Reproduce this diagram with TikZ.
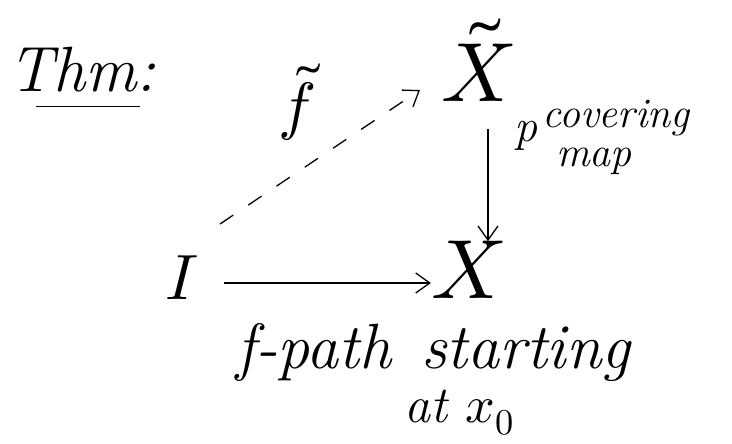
\documentclass[tikz,border=0pt]{standalone}
\usepackage{fontspec}
\usepackage{unicode-math}
\setmathfont{Latin Modern Math}
\usetikzlibrary{arrows.meta}
\tikzset{
  lbl/.style={inner sep=0pt, anchor=center},
  arr/.style={line width=1.3pt, -{Straight Barb[length=14pt,width=20pt,line width=1.3pt]}},
  hand/.style={line width=1.3pt}
}
\begin{document}
\begin{tikzpicture}[x=1pt,y=-1pt]
\useasboundingbox (0,0) rectangle (732,444);
\node[lbl] (thm) at (82,70) {\fontsize{64}{64}\selectfont\itshape Thm:};
\draw[hand] (thm.south west) ++(28,14) coordinate (ul1) -- ++(104,0) coordinate (ul2);
\node[lbl] (Xt) at (478,60) {\fontsize{84}{84}\selectfont$\tilde{X}$};
\node[lbl] (ft) at (297,102) {\fontsize{64}{64}\selectfont$\tilde{f}$};
\node[lbl] (I) at (182,278) {\fontsize{64}{64}\selectfont$I$};
\node[lbl] (X) at (468,270) {\fontsize{84}{84}\selectfont$X$};
\coordinate (ds) at (220,224);
\coordinate (de) at (420,90);
\draw[arr, dash pattern=on 16pt off 18pt] (ds) -- (de);
\draw[arr] (I.east) ++(25,5) coordinate (hs) -- (X.west |- 0,283) coordinate (he);
\draw[arr] (Xt.south -| 488,0) ++(0,28) coordinate (vs) -- (X.north -| 488,0) coordinate (ve);
\node[lbl, anchor=base west] (p) at (514,142) {\fontsize{46}{46}\selectfont\itshape p};
\node[lbl, anchor=base west] (cov) at (542,128) {\fontsize{42}{42}\selectfont\itshape covering};
\node[lbl, anchor=base west] (map) at (556,166) {\fontsize{42}{42}\selectfont\itshape map};
\node[lbl, anchor=base west] (fp) at (236,368) {\fontsize{64}{64}\selectfont\itshape\addfontfeatures{LetterSpace=10}f-path\hspace{30pt}\addfontfeatures{LetterSpace=24}starting};
\node[lbl, anchor=base west] (at) at (404,422) {\fontsize{52}{52}\selectfont\itshape\addfontfeatures{LetterSpace=12}at $x_0$};
\end{tikzpicture}
\end{document}
